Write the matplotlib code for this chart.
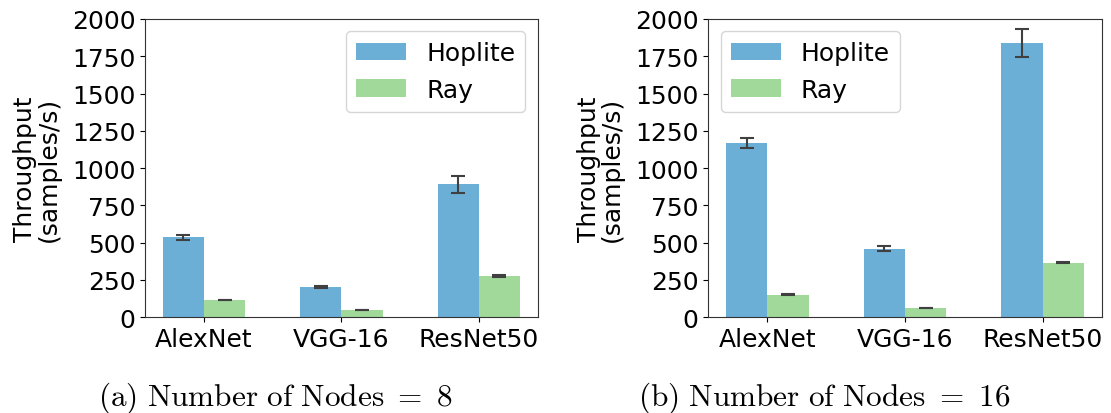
import matplotlib
matplotlib.use("Agg")
import matplotlib.pyplot as plt
import numpy as np

models = ["AlexNet", "VGG-16", "ResNet50"]

# Number of Nodes = 8
hoplite_8 = [537, 203, 893]
hoplite_8_err = [17, 7, 57]
ray_8 = [116, 49, 277]
ray_8_err = [3, 2, 4]

# Number of Nodes = 16
hoplite_16 = [1168, 460, 1841]
hoplite_16_err = [31, 18, 93]
ray_16 = [150, 63, 365]
ray_16_err = [3, 2, 4]

captions = [r"$\mathrm{(a)\ Number\ of\ Nodes}\ =\ 8$",
            r"$\mathrm{(b)\ Number\ of\ Nodes}\ =\ 16$"]

plt.rcParams["mathtext.fontset"] = "cm"
plt.rcParams["font.size"] = 18

BLUE = "#6baed6"
GREEN = "#a1d99b"
ECOL = "#404040"

fig = plt.figure(figsize=(11.11, 4.14), dpi=100)
ax1 = fig.add_axes([0.1305, 0.2312, 0.3537, 0.7205])
ax2 = fig.add_axes([0.6373, 0.2312, 0.3546, 0.7205])


def draw(ax, hop, hop_err, ray, ray_err, legend_loc):
    x = np.arange(len(models))
    w = 0.3
    ekw = dict(ecolor=ECOL, elinewidth=1.5, capthick=1.5)
    ax.bar(x - w / 2, hop, w, yerr=hop_err, color=BLUE, label="Hoplite",
           capsize=5, error_kw=ekw)
    ax.bar(x + w / 2, ray, w, yerr=ray_err, color=GREEN, label="Ray",
           capsize=5, error_kw=ekw)
    ax.set_xticks(x)
    ax.set_xticklabels(models)
    ax.set_ylim(0, 2000)
    ax.set_yticks(np.arange(0, 2001, 250))
    ax.set_ylabel("Throughput\n(samples/s)", linespacing=0.95, labelpad=8)
    ax.tick_params(labelsize=18)
    for s in ax.spines.values():
        s.set_color("#333333")
    ax.legend(loc=legend_loc, fontsize=18, framealpha=0.8)


draw(ax1, hoplite_8, hoplite_8_err, ray_8, ray_8_err, "upper right")
draw(ax2, hoplite_16, hoplite_16_err, ray_16, ray_16_err, "upper left")

fig.text(0.2484, 0.02, captions[0], ha="center", va="baseline", fontsize=22.5)
fig.text(0.7422, 0.02, captions[1], ha="center", va="baseline", fontsize=22.5)

fig.savefig("out.png", dpi=100)
